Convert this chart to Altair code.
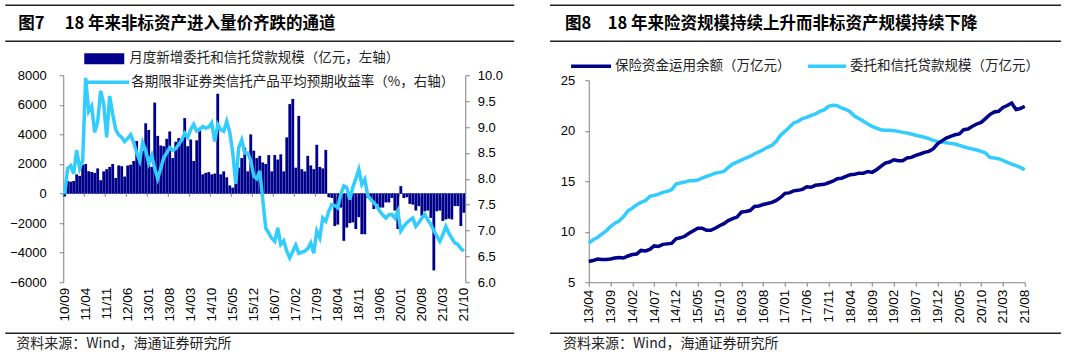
import altair as alt
import pandas as pd

DARK = "#00008A"
LIGHT = "#33CCFF"
GRAY = "#808080"
CJK = "Noto Sans CJK SC"
NUM = "Liberation Sans"


def month_range(y0, m0, y1, m1):
    out = []
    y, m = y0, m0
    while (y, m) <= (y1, m1):
        out.append(f"{y % 100:02d}/{m:02d}")
        m += 1
        if m > 12:
            m = 1
            y += 1
    return out


# ---------------- left chart data (2010/09 - 2021/10, monthly) ----------------
left_months = month_range(2010, 9, 2021, 10)
left_ticks = ["10/09", "11/04", "11/11", "12/06", "13/01", "13/08", "14/03", "14/10",
              "15/05", "15/12", "16/07", "17/02", "17/09", "18/04", "18/11", "19/06",
              "20/01", "20/08", "21/03", "21/10"]
new_loans = [
    -200, 850, 800, 850, 1300, 1200, 1950, 2000, 1500, 1450,
    1400, 1700, 900, 1500, 1650, 1800, 2000, 1050, 1900, 1850,
    1150, 1900, 1950, 2200, 3550, 2400, 2900, 4750, 4300, 1800,
    6150, 3900, 3250, 3200, 3700, 4200, 2400, 3500, 3750, 3700,
    5100, 3200, 3650, 2200, 3600, 4450, 1300, 1400, 1450, 1300,
    1350, 6750, 1300, 1500, 1100, 550, 400, 1200, 1750, 2400,
    3100, 1500, 4000, 2900, 2400, 2550, 2100, 2000, 2600, 1500,
    2600, 2300, 2650, 1500, 3800, 6050, 6400, 1750, 5250, 1650,
    1500, 2550, 1900, 1650, 3300, 1800, 1700, 2950, -250, -300,
    -2200, -2100, -950, -3200, -2300, -2000, -1950, -2400, -1600, -2750,
    -2750, -300, -400, -1050, -700, -950, -950, -600, -600, -300,
    -1150, -2400, 500, -300, -250, -700, -750, -1150, -850, -1500,
    -1200, -1150, -1650, -5200, -1200, -1150, -1850, -1750, -1700, -1750,
    -850, -850, -2200, -1300,
]
trust_yield = [
    7.7, 8.2, 8.25, 8.1, 8.55, 8.2, 8.35, 9.95, 9.3, 9.4,
    8.9, 9.1, 9.7, 9.45, 8.8, 9.6, 9.25, 8.95, 8.85, 8.8,
    8.72, 8.78, 8.85, 8.7, 8.5, 8.35, 8.7, 8.55, 8.3, 8.45,
    8.2, 8.0, 8.2, 8.4, 8.5, 8.6, 8.55, 8.58, 8.66, 8.75,
    8.88, 8.8, 8.95, 9.05, 8.92, 8.95, 9.01, 8.98, 9.0, 9.08,
    8.72, 9.05, 8.95, 8.92, 9.11, 8.9, 8.5, 7.9, 8.6, 8.75,
    8.5, 8.5, 8.35, 8.05, 8.0, 8.15, 7.6, 7.05, 6.95, 6.85,
    6.79, 7.05, 6.73, 6.8, 6.6, 6.47, 6.6, 6.72, 6.56, 6.58,
    6.6, 6.65, 6.76, 6.56, 6.99, 6.86, 7.24, 7.18, 7.37, 7.5,
    7.48, 7.44, 7.7, 7.86, 7.83, 7.6, 7.83, 8.0, 8.18, 7.89,
    7.99, 7.67, 7.6, 7.54, 7.47, 7.37, 7.3, 7.24, 7.3, 7.31,
    7.24, 7.37, 6.99, 7.08, 7.15, 7.2, 7.24, 7.08, 7.15, 7.24,
    7.31, 7.2, 7.12, 7.0, 6.89, 6.79, 6.92, 7.08, 6.95, 6.85,
    6.76, 6.73, 6.65, 6.6,
]

# ---------------- right chart data (2013/04 - 2021/08, monthly) ----------------
right_months = month_range(2013, 4, 2021, 8)
right_ticks = ["13/04", "13/09", "14/02", "14/07", "14/12", "15/05", "15/10", "16/03",
               "16/08", "17/01", "17/06", "17/11", "18/04", "18/09", "19/02", "19/07",
               "19/12", "20/05", "20/10", "21/03", "21/08"]
insurance = [
    7.05, 7.15, 7.3, 7.25, 7.25, 7.3, 7.4, 7.45, 7.4, 7.6,
    7.75, 7.8, 8.15, 8.1, 8.25, 8.6, 8.55, 8.75, 8.8, 8.85,
    9.3, 9.4, 9.55, 9.85, 10.1, 10.35, 10.35, 10.15, 10.15, 10.35,
    10.6, 10.8, 11.1, 11.3, 11.45, 11.95, 12.0, 12.1, 12.5, 12.55,
    12.7, 12.8, 12.9, 13.1, 13.4, 13.8, 13.85, 14.05, 14.1, 14.2,
    14.45, 14.4, 14.6, 14.65, 14.7, 14.85, 15.0, 15.25, 15.3, 15.48,
    15.65, 15.7, 15.8, 15.8, 15.97, 15.88, 16.14, 16.47, 16.8, 16.9,
    17.13, 17.03, 17.03, 17.3, 17.36, 17.56, 17.7, 17.86, 17.96, 18.2,
    18.7, 19.0, 19.28, 19.45, 19.6, 19.68, 20.1, 20.17, 20.44, 20.67,
    20.83, 21.2, 21.6, 21.86, 21.93, 22.3, 22.5, 22.75, 22.1, 22.2,
    22.42,
]
entrusted = [
    8.87, 9.2, 9.43, 9.76, 10.09, 10.52, 10.85, 11.08, 11.5, 12.07,
    12.34, 12.67, 12.9, 13.07, 13.5, 13.6, 13.73, 13.9, 14.0, 14.16,
    14.72, 14.82, 14.92, 15.05, 15.05, 15.12, 15.3, 15.48, 15.64, 15.8,
    15.88, 15.97, 16.37, 16.7, 16.9, 17.1, 17.3, 17.46, 17.7, 17.9,
    18.12, 18.36, 18.55, 18.95, 19.55, 19.94, 20.34, 20.77, 20.93, 21.2,
    21.33, 21.53, 21.66, 21.93, 22.06, 22.42, 22.52, 22.49, 22.26, 22.1,
    21.86, 21.43, 21.2, 20.93, 20.67, 20.44, 20.27, 20.1, 20.04, 20.04,
    20.0, 19.94, 19.84, 19.78, 19.68, 19.55, 19.45, 19.35, 19.22, 19.05,
    18.95, 18.88, 18.82, 18.75, 18.69, 18.55, 18.42, 18.29, 18.19, 18.09,
    17.96, 17.8, 17.36, 17.3, 17.23, 17.07, 16.87, 16.7, 16.54, 16.37,
    16.14,
]

title_left = "图7\u3000 18 年来非标资产进入量价齐跌的通道"
title_right = "图8\u300018 年来险资规模持续上升而非标资产规模持续下降"
legend_bar = "月度新增委托和信托贷款规模（亿元，左轴）"
legend_yield = "各期限非证券类信托产品平均预期收益率（%，右轴）"
legend_ins = "保险资金运用余额（万亿元）"
legend_ent = "委托和信托贷款规模（万亿元）"
source = "资料来源：Wind，海通证券研究所"

one = pd.DataFrame({"a": [0]})


def txt(s, x, y, size, bold=False, color="#000000"):
    return alt.Chart(one).mark_text(
        text=s, align="left", baseline="middle", fontSize=size,
        fontWeight="bold" if bold else "normal", font=CJK, color=color
    ).encode(x=alt.value(x), y=alt.value(y))


def hline(x1, x2, y, w=1.5, color="#222222"):
    return alt.Chart(one).mark_rule(color=color, strokeWidth=w).encode(
        x=alt.value(x1), x2=alt.value(x2), y=alt.value(y))


def box(x1, x2, y1, y2, color):
    return alt.Chart(one).mark_rect(color=color).encode(
        x=alt.value(x1), x2=alt.value(x2), y=alt.value(y1), y2=alt.value(y2))


H = 207

# ---------------- left panel ----------------
L_W = 402
df_l = pd.DataFrame({"m": left_months, "bar": new_loans, "rate": trust_yield})
df_lt = pd.DataFrame({"m": left_ticks})

xL_scale = alt.Scale(paddingInner=0.06, paddingOuter=0)
xL_axis = alt.Axis(values=left_ticks, labelAngle=-90, domain=False, ticks=False,
                   labelPadding=5, labelFontSize=13.5, labelOverlap=False)
xL = alt.X("m:O", sort=left_months, title=None, scale=xL_scale, axis=xL_axis)
yL_scale = alt.Scale(domain=[-6000, 8000], nice=False, zero=False)
yL_axis = alt.Axis(values=list(range(-6000, 8001, 2000)), format="d",
                   tickSize=4, labelPadding=13, labelOverlap=False)

bars = alt.Chart(df_l).mark_bar(color=DARK).encode(
    x=xL,
    y=alt.Y("bar:Q", scale=yL_scale, title=None, axis=yL_axis))
zero = alt.Chart(one).mark_rule(color=DARK, strokeWidth=1, strokeDash=[1, 1]).encode(
    y=alt.Y(datum=0, scale=yL_scale, title=None, axis=yL_axis))
ticks = alt.Chart(df_lt).mark_rule(color=GRAY, strokeWidth=1).encode(
    x=alt.X("m:O", sort=left_months, title=None, scale=xL_scale, axis=xL_axis,
            bandPosition=0),
    y=alt.Y(datum=0, scale=yL_scale, title=None, axis=yL_axis), y2=alt.Y2(datum=-220))
yield_line = alt.Chart(df_l).mark_line(color=LIGHT, strokeWidth=3.5).encode(
    x=xL,
    y=alt.Y("rate:Q", title=None, scale=alt.Scale(domain=[6, 10], nice=False, zero=False),
            axis=alt.Axis(orient="right", values=[6, 6.5, 7, 7.5, 8, 8.5, 9, 9.5, 10],
                          format=".1f", tickSize=4, labelPadding=8, labelOverlap=False)))

left_annot = [
    hline(-58, 451, -70),
    txt(title_left, -45, -51, 16.5, bold=True),
    hline(-58, 451, -34),
    box(21, 61, -22, -11, DARK),
    txt(legend_bar, 66, -17, 13.5, color="#222222"),
    hline(21, 66, 7, w=3.5, color=LIGHT),
    txt(legend_yield, 68, 7, 13.5, color="#222222"),
    hline(-58, 451, 258),
    txt(source, -47, 269, 14, color="#222222"),
]

left = alt.layer(alt.layer(bars, zero, ticks), yield_line, *left_annot).resolve_scale(
    y="independent").properties(width=L_W, height=H)

# ---------------- right panel ----------------
R_W = 436
idx = list(range(len(right_months)))
tick_idx = [right_months.index(t) for t in right_ticks]
df_ins = pd.DataFrame({"i": idx, "v": insurance})
df_ent = pd.DataFrame({"i": idx, "v": entrusted})
label_expr = "{" + ",".join(f"'{i}':'{m}'" for i, m in zip(idx, right_months)) + "}[''+datum.value]"
xR = alt.X("i:Q", title=None,
           scale=alt.Scale(domain=[0, len(right_months) - 1], nice=False, zero=False),
           axis=alt.Axis(values=tick_idx, labelExpr=label_expr, labelAngle=-90, tickSize=4,
                         labelPadding=3, labelFontSize=13.5, labelOverlap=False,
                         labelBound=False, labelFlush=False))
yR = alt.Y("v:Q", title=None,
           scale=alt.Scale(domain=[5, 25], nice=False, zero=False, range=[H, 5]),
           axis=alt.Axis(values=[5, 10, 15, 20, 25], tickSize=4, labelPadding=10,
                         labelOverlap=False))

ent_line = alt.Chart(df_ent).mark_line(color=LIGHT, strokeWidth=3.5).encode(x=xR, y=yR)
ins_line = alt.Chart(df_ins).mark_line(color=DARK, strokeWidth=3.5).encode(x=xR, y=yR)

right_annot = [
    hline(-38.7, 472.3, -70),
    txt(title_right, -23.7, -51, 16.5, bold=True),
    hline(-38.7, 472.3, -34),
    hline(-17.7, 22.3, -9, w=3.5, color=DARK),
    txt(legend_ins, 26.3, -9, 13.5, color="#222222"),
    hline(219.3, 257.3, -9, w=3.5, color=LIGHT),
    txt(legend_ent, 261.3, -9, 13.5, color="#222222"),
    hline(-38.7, 472.3, 258),
    txt(source, -25.7, 269, 14, color="#222222"),
]

right = alt.layer(ent_line, ins_line, *right_annot).properties(width=R_W, height=H)

chart = alt.hconcat(left, right, spacing=32.5).properties(
    padding={"left": 3.25, "top": 3.25, "right": 0, "bottom": 0},
    background="white",
).configure_view(stroke="transparent").configure_axis(
    labelFont=NUM, labelFontSize=13, labelColor="#000000", domainColor=GRAY,
    tickColor=GRAY, grid=False)

chart.save("out.html", embed_options={"renderer": "svg", "actions": False})
